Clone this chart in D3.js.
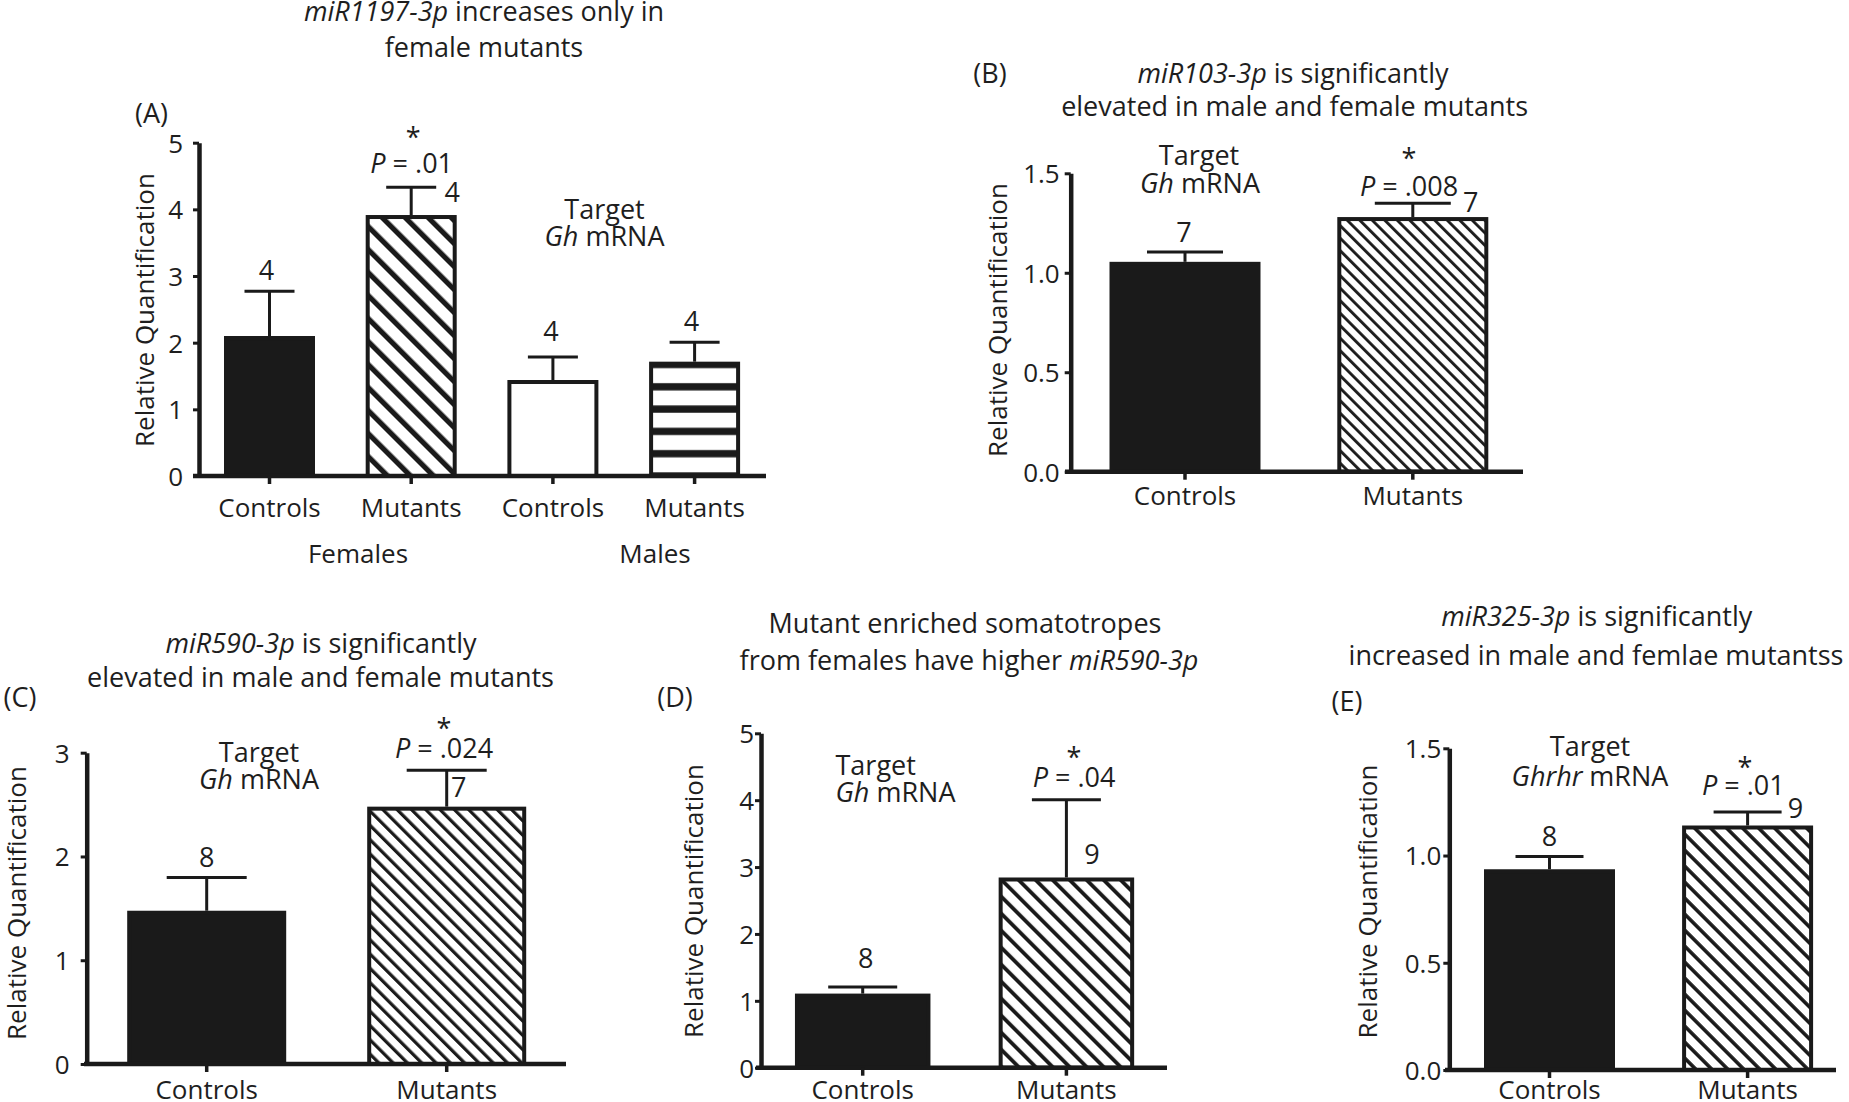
<!DOCTYPE html>
<html><head><meta charset="utf-8">
<script src="https://cdn.jsdelivr.net/npm/d3@7"></script>
<style>
html,body{margin:0;padding:0;background:#fff;}
svg{display:block;}
text{font-family:"Open Sans","Noto Sans",sans-serif;fill:#1e1e1e;}
</style></head><body>
<svg id="chart" width="1849" height="1102"></svg>
<script>
// ---------------- DATA ----------------
const panelA_categories = ["Controls", "Mutants", "Controls", "Mutants"];
const panelA_groups = ["Females", "Males"];
const panelA_means = [2.10, 3.915, 1.44, 1.715];
const panelA_sem = [0.67, 0.415, 0.345, 0.29];
const panelA_n = ["4", "4", "4", "4"];
const panelA_fills = ["solid", "diagonal", "open", "horizontal"];
const panelA_ticks = [0, 1, 2, 3, 4, 5];
const panelA_p = ".01";

const panelB_categories = ["Controls", "Mutants"];
const panelB_means = [1.055, 1.28];
const panelB_sem = [0.05, 0.07];
const panelB_n = ["7", "7"];
const panelB_fills = ["solid", "diagonal"];
const panelB_ticks = [0, 0.5, 1.0, 1.5];
const panelB_p = ".008";

const panelC_categories = ["Controls", "Mutants"];
const panelC_means = [1.477, 2.48];
const panelC_sem = [0.32, 0.35];
const panelC_n = ["8", "7"];
const panelC_fills = ["solid", "diagonal"];
const panelC_ticks = [0, 1, 2, 3];
const panelC_p = ".024";

const panelD_categories = ["Controls", "Mutants"];
const panelD_means = [1.108, 2.844];
const panelD_sem = [0.10, 1.163];
const panelD_n = ["8", "9"];
const panelD_fills = ["solid", "diagonal"];
const panelD_ticks = [0, 1, 2, 3, 4, 5];
const panelD_p = ".04";

const panelE_categories = ["Controls", "Mutants"];
const panelE_means = [0.936, 1.14];
const panelE_sem = [0.06, 0.063];
const panelE_n = ["8", "9"];
const panelE_fills = ["solid", "diagonal"];
const panelE_ticks = [0, 0.5, 1.0, 1.5];
const panelE_p = ".01";

const yLabel = "Relative Quantification";

// ---------------- LAYOUT ----------------
const svg = d3.select("#chart");
const defs = svg.append("defs");
const INK = "#1a1a1a";

function addText(g, x, y, parts, opt) {
  opt = opt || {};
  const t = g.append("text")
    .attr("x", x).attr("y", y)
    .attr("font-size", opt.fs || 27)
    .attr("text-anchor", opt.anchor || "middle");
  if (opt.rotate) t.attr("transform", `rotate(${opt.rotate},${x},${y})`);
  (typeof parts === "string" ? [{t: parts}] : parts).forEach(p => {
    t.append("tspan").text(p.t).attr("font-style", p.i ? "italic" : "normal");
  });
  return t;
}

function makeDiag(id, hPeriod) {
  const pp = hPeriod / Math.SQRT2;
  const p = defs.append("pattern").attr("id", id)
    .attr("patternUnits", "userSpaceOnUse")
    .attr("width", pp).attr("height", pp)
    .attr("patternTransform", "rotate(-45)");
  p.append("rect").attr("width", pp).attr("height", pp).attr("fill", "#fff");
  p.append("rect").attr("width", pp * 0.32).attr("height", pp).attr("fill", INK);
}
function makeHoriz(id, period, band, y0) {
  const p = defs.append("pattern").attr("id", id)
    .attr("patternUnits", "userSpaceOnUse")
    .attr("width", 20).attr("height", period)
    .attr("patternTransform", `translate(0,${y0})`);
  p.append("rect").attr("width", 20).attr("height", period).attr("fill", "#fff");
  p.append("rect").attr("y", 0).attr("width", 20).attr("height", band / 2).attr("fill", INK);
  p.append("rect").attr("y", period - band / 2).attr("width", 20).attr("height", band / 2).attr("fill", INK);
}

function drawPanel(c) {
  const g = svg.append("g");
  const n = c.categories.length;
  const step = (c.cLast - c.cFirst) / (n - 1);
  const x = d3.scaleBand().domain(d3.range(n))
    .range([c.cFirst - c.bw / 2, c.cLast + c.bw / 2])
    .paddingInner(1 - c.bw / step).paddingOuter(0);
  const y = d3.scaleLinear().domain(c.yDomain).range([c.y0, c.yTop]);

  const diagId = "diag" + c.key;
  makeDiag(diagId, c.hatch);
  const horizId = "horiz" + c.key;
  makeHoriz(horizId, 22.3, 7.3, c.y0);
  const fillOf = f => f === "solid" ? INK : f === "open" ? "#fff" :
    f === "diagonal" ? `url(#${diagId})` : `url(#${horizId})`;

  // error bars (upper only)
  c.means.forEach((m, i) => {
    const cx = x(i) + x.bandwidth() / 2;
    g.append("line").attr("x1", cx).attr("x2", cx)
      .attr("y1", y(m)).attr("y2", y(m + c.sem[i]))
      .attr("stroke", INK).attr("stroke-width", 3);
    g.append("line").attr("x1", cx - c.cap).attr("x2", cx + c.cap)
      .attr("y1", y(m + c.sem[i])).attr("y2", y(m + c.sem[i]))
      .attr("stroke", INK).attr("stroke-width", 3);
  });

  // bars
  g.selectAll("rect.bar").data(c.means).join("rect").attr("class", "bar")
    .attr("x", (d, i) => x(i) + 2).attr("width", x.bandwidth() - 4)
    .attr("y", d => y(d) + 2).attr("height", d => c.y0 - y(d) - 2)
    .attr("fill", (d, i) => fillOf(c.fills[i]))
    .attr("stroke", INK).attr("stroke-width", 4);

  // y axis
  const ya = g.append("g").attr("transform", `translate(${c.axisX},0)`)
    .call(d3.axisLeft(y).tickValues(c.ticks).tickFormat(d3.format(c.fmt))
      .tickSize(6).tickSizeOuter(0).tickPadding(c.tickPad));
  ya.attr("font-family", null).attr("font-size", null);
  ya.select(".domain").attr("stroke", INK).attr("stroke-width", 4.5);
  ya.selectAll(".tick line").attr("stroke", INK).attr("stroke-width", 3);
  ya.selectAll(".tick text").attr("font-size", 26).attr("fill", "#1e1e1e").attr("dy", "0.36em");

  // x axis
  g.append("line").attr("x1", c.xStart).attr("x2", c.xEnd)
    .attr("y1", c.y0).attr("y2", c.y0).attr("stroke", INK).attr("stroke-width", 4.5);
  const xa = g.append("g").attr("transform", `translate(0,${c.y0})`)
    .call(d3.axisBottom(x).tickFormat(i => c.categories[i]).tickSize(8).tickSizeOuter(0));
  xa.attr("font-family", null).attr("font-size", null);
  xa.select(".domain").remove();
  xa.selectAll(".tick line").attr("stroke", INK).attr("stroke-width", 3.5);
  xa.selectAll(".tick text").attr("font-size", 26).attr("fill", "#1e1e1e")
    .attr("y", c.catBase).attr("dy", null);

  addText(g, c.yLab[0] + 0.357 * 26, c.yLab[1], yLabel, {fs: 26, rotate: -90});
  addText(g, c.letter[0], c.letter[1], c.letterText, {fs: 27});
  c.title.forEach((line, k) => addText(g, c.titleX[k], c.titleY[k], line, {fs: 27}));

  addText(g, c.target[0], c.target[1], "Target", {fs: 27, anchor: c.targetAnchor || "middle"});
  addText(g, c.target[2], c.target[3], [{t: c.gene, i: true}, {t: " mRNA"}], {fs: 27, anchor: c.targetAnchor || "middle"});

  addText(g, c.star[0], c.star[1], "*", {fs: 27});
  addText(g, c.pPos[0], c.pPos[1], [{t: "P", i: true}, {t: " = " + c.p}], {fs: 27});

  c.nOff.forEach((o, i) => {
    const cx = x(i) + x.bandwidth() / 2;
    const ref = o[2] === "mean" ? y(c.means[i]) : y(c.means[i] + c.sem[i]);
    addText(g, cx + o[0], ref + o[1], c.nLab[i], {fs: 27});
  });
  return {g, x, y};
}

// Panel A
const pA = drawPanel({
  key: "A", categories: panelA_categories, means: panelA_means, sem: panelA_sem,
  nLab: panelA_n, fills: panelA_fills, ticks: panelA_ticks, fmt: "d", p: panelA_p,
  yDomain: [0, 5], y0: 476, yTop: 142.7, axisX: 199, tickPad: 10,
  cFirst: 269.5, cLast: 694.6, bw: 91, cap: 25, hatch: 23,
  xStart: 193, xEnd: 766, catBase: 41,
  yLab: [145, 310], letter: [151.5, 122.6], letterText: "(A)",
  title: [[{t: "miR1197-3p", i: true}, {t: " increases only in"}], [{t: "female mutants"}]],
  titleX: [484, 484], titleY: [21, 57],
  target: [604.5, 218.5, 604.5, 246], gene: "Gh",
  star: [413.3, 147], pPos: [411.7, 172.7],
  nOff: [[-3, -11, "err"], [41, 14.4, "err"], [-2, -16, "err"], [-3, -11.6, "err"]]
});
addText(pA.g, 358, 563, panelA_groups[0], {fs: 26});
addText(pA.g, 655, 563, panelA_groups[1], {fs: 26});

// Panel B
drawPanel({
  key: "B", categories: panelB_categories, means: panelB_means, sem: panelB_sem,
  nLab: panelB_n, fills: panelB_fills, ticks: panelB_ticks, fmt: ".1f", p: panelB_p,
  yDomain: [0, 1.5], y0: 471.7, yTop: 173.3, axisX: 1070.7, tickPad: 5,
  cFirst: 1185, cLast: 1412.8, bw: 151, cap: 38, hatch: 12.5,
  xStart: 1065, xEnd: 1523, catBase: 33,
  yLab: [998, 320], letter: [990, 83], letterText: "(B)",
  title: [[{t: "miR103-3p", i: true}, {t: " is significantly"}], [{t: "elevated in male and female mutants"}]],
  titleX: [1293, 1294.6], titleY: [82.6, 116.3],
  target: [1199, 165, 1200, 193], gene: "Gh",
  star: [1409, 168], pPos: [1409, 196],
  nOff: [[-1, -10, "err"], [58, 8.7, "err"]]
});

// Panel C
drawPanel({
  key: "C", categories: panelC_categories, means: panelC_means, sem: panelC_sem,
  nLab: panelC_n, fills: panelC_fills, ticks: panelC_ticks, fmt: "d", p: panelC_p,
  yDomain: [0, 3], y0: 1064, yTop: 752.7, axisX: 86.7, tickPad: 11,
  cFirst: 206.7, cLast: 446.7, bw: 159, cap: 40, hatch: 14.3,
  xStart: 84, xEnd: 566, catBase: 35,
  yLab: [17, 903], letter: [20, 706.6], letterText: "(C)",
  title: [[{t: "miR590-3p", i: true}, {t: " is significantly"}], [{t: "elevated in male and female mutants"}]],
  titleX: [321, 320.5], titleY: [652.6, 686.6],
  target: [259, 761.7, 259, 789.3], gene: "Gh",
  star: [444, 738.4], pPos: [444, 758.3],
  nOff: [[0, -10.7, "err"], [12, 26.4, "err"]]
});

// Panel D
drawPanel({
  key: "D", categories: panelD_categories, means: panelD_means, sem: panelD_sem,
  nLab: panelD_n, fills: panelD_fills, ticks: panelD_ticks, fmt: "d", p: panelD_p,
  yDomain: [0, 5], y0: 1067.7, yTop: 733.3, axisX: 761, tickPad: 1,
  cFirst: 862.7, cLast: 1066.4, bw: 135.5, cap: 34.5, hatch: 17,
  xStart: 756, xEnd: 1167, catBase: 31.3,
  yLab: [694, 901], letter: [675, 706.6], letterText: "(D)",
  title: [[{t: "Mutant enriched somatotropes"}], [{t: "from females have higher "}, {t: "miR590-3p", i: true}]],
  titleX: [965, 969], titleY: [632.6, 669.6],
  target: [835.5, 775, 835.5, 801.7], targetAnchor: "start", gene: "Gh",
  star: [1074, 767], pPos: [1074, 786.7],
  nOff: [[3, -19, "err"], [25.6, -13.4, "mean"]]
});

// Panel E
drawPanel({
  key: "E", categories: panelE_categories, means: panelE_means, sem: panelE_sem,
  nLab: panelE_n, fills: panelE_fills, ticks: panelE_ticks, fmt: ".1f", p: panelE_p,
  yDomain: [0, 1.5], y0: 1070, yTop: 748.3, axisX: 1449.3, tickPad: 2,
  cFirst: 1549.5, cLast: 1747.6, bw: 131, cap: 34, hatch: 16,
  xStart: 1445, xEnd: 1836, catBase: 29,
  yLab: [1368, 901.5], letter: [1347, 710.6], letterText: "(E)",
  title: [[{t: "miR325-3p", i: true}, {t: " is significantly"}], [{t: "increased in male and femlae mutantss"}]],
  titleX: [1596.7, 1596], titleY: [626.3, 664.6],
  target: [1590, 756, 1590, 785.5], gene: "Ghrhr",
  star: [1745, 777], pPos: [1743.4, 795],
  nOff: [[0, -10, "err"], [48, 6.3, "err"]]
});
</script>
</body></html>
